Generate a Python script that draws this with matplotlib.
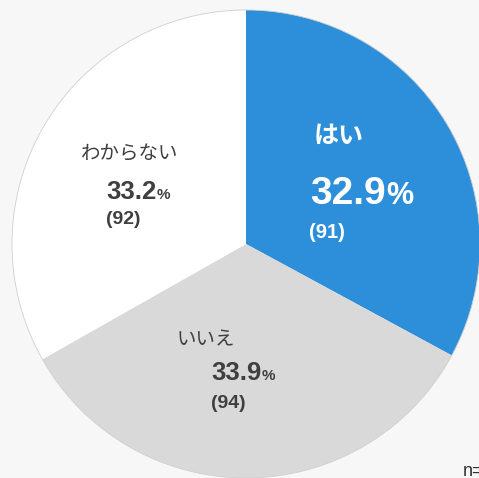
import matplotlib
matplotlib.use("Agg")
import matplotlib.pyplot as plt
from matplotlib.patches import Circle

# data
labels = ["はい", "いいえ", "わからない"]
shares = [32.9, 33.9, 33.2]
counts = [91, 94, 92]
colors = ["#2D8FDA", "#D9D9D9", "#FFFFFF"]
total_n = sum(counts)

num_font = ["Liberation Sans", "DejaVu Sans"]
jp_font = ["Noto Sans CJK JP", "DejaVu Sans"]
dark = "#3F3F3F"

W, H = 479, 478
fig = plt.figure(figsize=(W / 100, H / 100), dpi=100, facecolor="#F7F7F7")
ax = fig.add_axes([0, 0, 1, 1])
ax.set_facecolor("#F7F7F7")

center = (246, H - 244)
radius = 234
ax.pie(shares, colors=colors, startangle=90, counterclock=False,
       center=center, radius=radius, wedgeprops=dict(linewidth=0))
ax.add_patch(Circle(center, radius, fill=False, edgecolor="#CFCFCF", linewidth=0.6))
ax.set_xlim(0, W)
ax.set_ylim(0, H)
ax.set_aspect("equal")
ax.axis("off")

fig.canvas.draw()
renderer = fig.canvas.get_renderer()


def value_label(x, y, value, size, pct_size, color):
    # number and a smaller "%" sharing one baseline
    t = ax.text(x, H - y, f"{value:.1f}", fontsize=size, fontweight="bold",
                family=num_font, color=color, ha="left", va="baseline")
    bb = t.get_window_extent(renderer=renderer)
    x1 = ax.transData.inverted().transform((bb.x1, bb.y0))[0]
    ax.text(x1 + 0.5, H - y, "%", fontsize=pct_size, fontweight="bold",
            family=num_font, color=color, ha="left", va="baseline")


# はい (blue slice)
ax.text(314, H - 136, labels[0], fontsize=18, fontweight="bold", family=jp_font,
        color="white", ha="left", va="center")
value_label(310, 204, shares[0], 28, 22, "white")
ax.text(309, H - 238, f"({counts[0]})", fontsize=14.5, fontweight="bold",
        family=num_font, color="white", ha="left", va="baseline")

# いいえ (gray slice)
ax.text(177, H - 340, labels[1], fontsize=14, family=jp_font,
        color=dark, ha="left", va="center")
value_label(211, 380, shares[1], 18.5, 11, dark)
ax.text(211, H - 408, f"({counts[1]})", fontsize=14, fontweight="bold",
        family=num_font, color=dark, ha="left", va="baseline")

# わからない (white slice)
ax.text(81, H - 154, labels[2], fontsize=14, family=jp_font,
        color=dark, ha="left", va="center")
value_label(106, 199, shares[2], 18.5, 11, dark)
ax.text(106, H - 224, f"({counts[2]})", fontsize=14, fontweight="bold",
        family=num_font, color=dark, ha="left", va="baseline")

# sample size note, cut by the right edge as in the source
ax.text(463, H - 476, f"n={total_n}", fontsize=13, family=num_font,
        color="#333333", ha="left", va="baseline")

fig.savefig("out.png", dpi=100, facecolor=fig.get_facecolor())
